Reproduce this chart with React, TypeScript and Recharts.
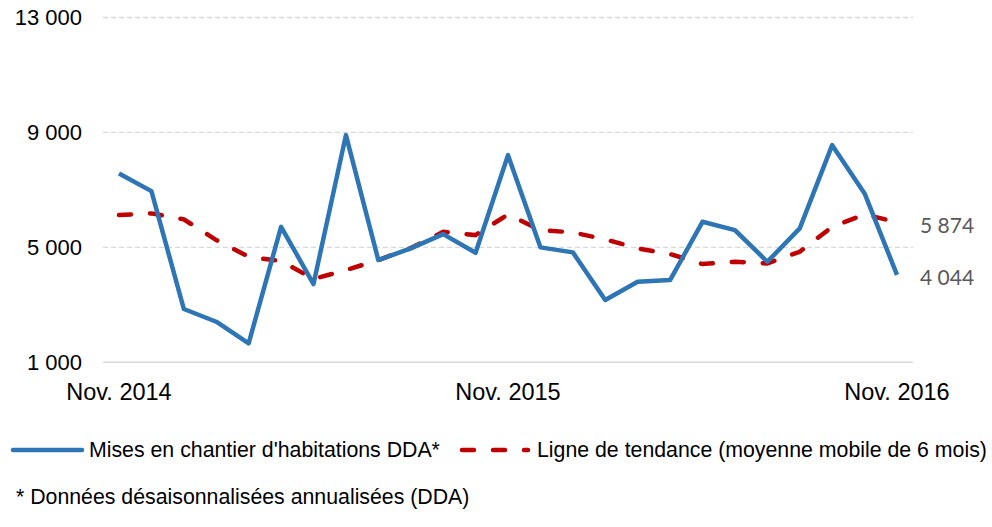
import { LineChart, Line, XAxis, YAxis, CartesianGrid } from "recharts";

const MONTHS = [
  "Nov. 2014", "Déc. 2014", "Janv. 2015", "Févr. 2015", "Mars 2015", "Avr. 2015",
  "Mai 2015", "Juin 2015", "Juil. 2015", "Août 2015", "Sept. 2015", "Oct. 2015",
  "Nov. 2015", "Déc. 2015", "Janv. 2016", "Févr. 2016", "Mars 2016", "Avr. 2016",
  "Mai 2016", "Juin 2016", "Juil. 2016", "Août 2016", "Sept. 2016", "Oct. 2016",
  "Nov. 2016",
];

// mises en chantier DDA
const STARTS = [
  7573, 6958, 2854, 2412, 1661, 5716, 3723, 8906, 4558, 4965, 5462, 4812,
  8210, 5000, 4826, 3167, 3803, 3862, 5890, 5601, 4499, 5661, 8558, 6878,
  4044,
];

// moyenne mobile 6 mois
const TREND = [
  6123, 6182, 5974, 5254, 4673, 4523, 3900, 4210, 4558, 4975, 5542, 5428,
  6147, 5601, 5521, 5278, 4965, 4767, 4419, 4499, 4443, 4847, 5716, 6147,
  5874,
];

const Y_TICKS = [1000, 5000, 9000, 13000];

const BLUE = "#2E75B6";
const RED = "#C00000";

const data = MONTHS.map((month, i) => ({ month, starts: STARTS[i], trend: TREND[i] }));

const fmt = (v: number) => String(Math.round(v)).replace(/\B(?=(\d{3})+(?!\d))/g, " ");

const endLabel = (props: any) => {
  const { x, y, value, index } = props;
  if (index !== data.length - 1) return null;
  return (
    <text
      x={x + 23}
      y={y + 2}
      dominantBaseline="central"
      fontFamily="Lato, 'Noto Sans', sans-serif"
      fontSize={21}
      fill="#595959"
    >
      {fmt(value)}
    </text>
  );
};

const txt = { fontFamily: "'Liberation Sans', Arial, sans-serif", color: "#000" };

export default function App() {
  return (
    <div style={{ position: "absolute", left: 0, top: 0, width: 992, height: 527, background: "#fff" }}>
      <LineChart
        width={992}
        height={410}
        data={data}
        margin={{ top: 17.5, right: 79, bottom: 0, left: 0 }}
      >
        <CartesianGrid vertical={false} stroke="#d9d9d9" strokeDasharray="5 3" strokeWidth={1.3} />
        <XAxis
          dataKey="month"
          interval={11}
          height={47.7}
          padding={{ left: 16, right: 16 }}
          tickLine={false}
          tickSize={0}
          tickMargin={21}
          axisLine={{ stroke: "#d9d9d9", strokeWidth: 1.5 }}
          tick={{ fontFamily: "'Liberation Sans', Arial, sans-serif", fontSize: 23.5, fill: "#000" }}
        />
        <YAxis
          width={103}
          domain={[1000, 13000]}
          ticks={Y_TICKS}
          axisLine={false}
          tickLine={false}
          tickSize={0}
          tickMargin={21}
          tickFormatter={fmt}
          tick={{ fontFamily: "'Liberation Sans', Arial, sans-serif", fontSize: 22, fill: "#000" }}
        />
        <Line
          type="linear"
          dataKey="trend"
          stroke={RED}
          strokeWidth={4.5}
          strokeDasharray="12 19"
          strokeLinecap="round"
          dot={false}
          label={endLabel}
          isAnimationActive={false}
        />
        <Line
          type="linear"
          dataKey="starts"
          stroke={BLUE}
          strokeWidth={4.5}
          strokeLinejoin="round"
          dot={false}
          label={endLabel}
          isAnimationActive={false}
        />
      </LineChart>

      <svg width={992} height={30} style={{ position: "absolute", left: 0, top: 435 }}>
        <line x1={13} y1={15} x2={82} y2={15} stroke={BLUE} strokeWidth={4.5} strokeLinecap="round" />
        <line x1={462} y1={15} x2={528} y2={15} stroke={RED} strokeWidth={4.5} strokeLinecap="round" strokeDasharray="12 19" />
      </svg>
      <div style={{ ...txt, position: "absolute", left: 89, top: 438, fontSize: 21.3, lineHeight: "24px", whiteSpace: "nowrap" }}>
        Mises en chantier d'habitations DDA*
      </div>
      <div style={{ ...txt, position: "absolute", left: 537, top: 438, fontSize: 21.3, lineHeight: "24px", whiteSpace: "nowrap" }}>
        Ligne de tendance (moyenne mobile de 6 mois)
      </div>
      <div style={{ ...txt, position: "absolute", left: 16, top: 485, fontSize: 21.3, lineHeight: "24px", whiteSpace: "nowrap" }}>
        * Données désaisonnalisées annualisées (DDA)
      </div>
    </div>
  );
}
